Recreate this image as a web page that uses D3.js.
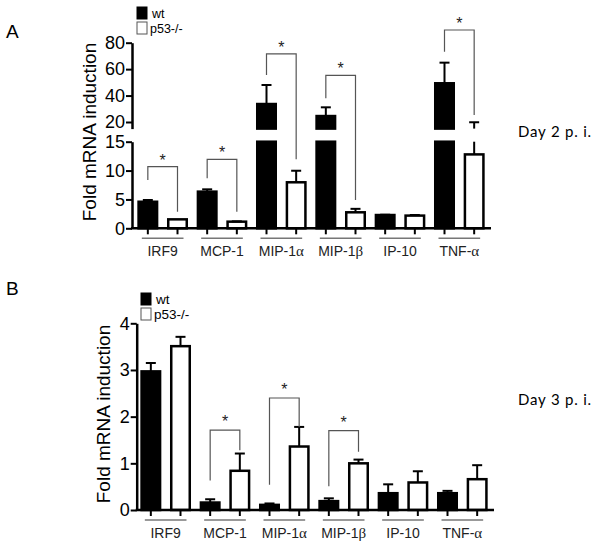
<!DOCTYPE html>
<html><head><meta charset="utf-8">
<script src="https://cdn.jsdelivr.net/npm/d3@7"></script>
<style>body{margin:0;background:#fff}svg{display:block}</style>
</head><body>
<script>
// ---- data ----
const categories = ["IRF9", "MCP-1", "MIP-1α", "MIP-1β", "IP-10", "TNF-α"];
const seriesNames = ["wt", "p53-/-"];

// Day 2 p.i. (panel A)
const day2Wt = [4.6, 6.35, 33.6, 24.5, 2.3, 49.3];
const day2WtErr = [0.3, 0.4, 14.4, 6.6, 0.05, 15.6];
const day2Ko = [1.55, 1.15, 7.97, 2.77, 2.2, 12.8];
const day2KoErr = [0, 0.05, 2.0, 0.6, 0.1, 7.0];
const day2LowTicks = [0, 5, 10, 15];
const day2HighTicks = [20, 40, 60, 80];
const day2SigCats = [0, 1, 2, 3, 5];
const day2SigTop = [10.67, 11.95, 71.5, 55.3, 89.6];
const day2SigLeft = [8.37, 8.66, 55.6, 37.9, 73.2];
const day2SigRight = [2.88, 2.88, 11.95, 4.9, 25.3];

// Day 3 p.i. (panel B)
const day3Wt = [2.97, 0.16, 0.11, 0.19, 0.36, 0.36];
const day3WtErr = [0.18, 0.07, 0.03, 0.06, 0.19, 0.05];
const day3Ko = [3.51, 0.84, 1.36, 1.0, 0.59, 0.66];
const day3KoErr = [0.2, 0.37, 0.42, 0.08, 0.24, 0.30];
const day3Ticks = [0, 1, 2, 3, 4];
const day3SigCats = [1, 2, 3];
const day3SigTop = [1.71, 2.40, 1.70];
const day3SigLeft = [0.63, 0.54, 0.51];
const day3SigRight = [1.28, 1.78, 1.25];

// ---- drawing ----
const W = 600, H = 546;
const svg = d3.select("body").append("svg").attr("width", W).attr("height", H);
const FONT = "'Liberation Sans', Arial, sans-serif";

function labelText(sel, s) {
  const m = s.match(/^(.*?)([αβ])$/);
  if (m) {
    sel.append("tspan").text(m[1]);
    sel.append("tspan").attr("font-family", "'Liberation Serif', serif").attr("font-size", 15).text(m[2]);
  } else sel.text(s);
}

function drawPanel(cfg) {
  const g = svg.append("g");
  const x0 = d3.scaleBand().domain(categories).range(cfg.xRange).paddingInner(0).paddingOuter(0);
  const x1 = d3.scaleBand().domain(seriesNames).range([0, x0.bandwidth()]).paddingInner(0.376).paddingOuter(0.188);
  const yf = cfg.y;
  const baseY = yf(0);
  const bw = x1.bandwidth();

  const vals = [cfg.wt, cfg.ko], errs = [cfg.wtErr, cfg.koErr];
  const fills = ["#000", "#fff"];

  seriesNames.forEach((s, si) => {
    categories.forEach((c, ci) => {
      const v = vals[si][ci];
      const xl = x0(c) + x1(s);
      cfg.segments(0, v).forEach(({a, b, sc}) => {
        g.append("rect").attr("x", xl).attr("y", sc(b)).attr("width", bw)
          .attr("height", sc(a) - sc(b)).attr("fill", fills[si])
          .attr("stroke", "#000").attr("stroke-width", 2.5);
      });
      const e = errs[si][ci];
      if (e > 0) {
        const cx = xl + bw / 2;
        cfg.segments(v, v + e).forEach(({a, b, sc}) => {
          g.append("line").attr("x1", cx).attr("x2", cx).attr("y1", sc(a)).attr("y2", sc(b))
            .attr("stroke", "#000").attr("stroke-width", 2);
        });
        g.append("line").attr("x1", cx - 5).attr("x2", cx + 5).attr("y1", yf(v + e)).attr("y2", yf(v + e))
          .attr("stroke", "#000").attr("stroke-width", 2);
      }
    });
  });

  cfg.yAxes.forEach(({scale, ticks}) => {
    const ax = g.append("g").attr("transform", `translate(${cfg.axisX},0)`)
      .call(d3.axisLeft(scale).tickValues(ticks).tickFormat(d3.format("d"))
        .tickSize(6).tickSizeOuter(0).tickPadding(1));
    ax.select(".domain").attr("stroke-width", 2.5);
    ax.selectAll(".tick line").attr("stroke-width", 2);
    ax.selectAll(".tick text").attr("font-size", 18).attr("font-family", FONT).attr("fill", "#000");
  });

  g.append("line").attr("x1", cfg.axisX - 1).attr("x2", cfg.xRange[1] + 2)
    .attr("y1", baseY).attr("y2", baseY).attr("stroke", "#000").attr("stroke-width", 2.5);
  categories.forEach(c => seriesNames.forEach(s => {
    const cx = x0(c) + x1(s) + bw / 2;
    g.append("line").attr("x1", cx).attr("x2", cx).attr("y1", baseY).attr("y2", baseY + 6)
      .attr("stroke", "#000").attr("stroke-width", 2);
  }));
  categories.forEach(c => {
    const a = x0(c) + x1("wt") + bw / 2 - 6, b = x0(c) + x1("p53-/-") + bw / 2 + 6;
    g.append("line").attr("x1", a).attr("x2", b).attr("y1", baseY + 10).attr("y2", baseY + 10)
      .attr("stroke", "#777").attr("stroke-width", 1.5);
    const t = g.append("text").attr("x", (a + b) / 2).attr("y", baseY + 28).attr("text-anchor", "middle")
      .attr("font-family", FONT).attr("font-size", 14).attr("fill", "#222");
    labelText(t, c);
  });

  cfg.sigCats.forEach((ci, k) => {
    const c = categories[ci];
    const xa = x0(c) + x1("wt") + bw / 2, xb = x0(c) + x1("p53-/-") + bw / 2;
    const yt = yf(cfg.sigTop[k]);
    g.append("path").attr("d", `M${xa},${yf(cfg.sigLeft[k])}V${yt}H${xb}V${yf(cfg.sigRight[k])}`)
      .attr("fill", "none").attr("stroke", "#555").attr("stroke-width", 1.2);
    g.append("text").attr("x", (xa + xb) / 2).attr("y", yt - cfg.starOff).attr("text-anchor", "middle")
      .attr("font-family", FONT).attr("font-size", 16).attr("fill", "#222").text("*");
  });

  g.append("text").attr("transform", `translate(${cfg.ylabX},${cfg.ylabY}) rotate(-90)`)
    .attr("text-anchor", "middle").attr("font-family", FONT).attr("font-size", 19).attr("fill", "#000")
    .text("Fold mRNA induction");

  g.append("text").attr("x", 6).attr("y", cfg.letterY).attr("font-family", FONT)
    .attr("font-size", 19).attr("fill", "#000").text(cfg.letter);

  g.append("text").attr("x", 518).attr("y", cfg.dayY).attr("font-family", "Lato, sans-serif")
    .attr("font-size", 15).attr("letter-spacing", 0.8).attr("fill", "#000").text(cfg.day);

  const L = cfg.legend;
  seriesNames.forEach((s, si) => {
    g.append("rect").attr("x", L.x).attr("y", L.y + si * L.dy).attr("width", L.size - 1).attr("height", L.size + 1)
      .attr("fill", fills[si]).attr("stroke", si ? "#555" : "#000").attr("stroke-width", 1);
    g.append("text").attr("x", L.x + L.size + 4 - si * 2).attr("y", L.y + si * L.dy + L.size)
      .attr("font-family", FONT).attr("font-size", L.fs).attr("fill", "#000").text(s);
  });
}

// Panel A: broken axis (two linear scales)
const BREAK = 15;
const yALow = d3.scaleLinear().domain([0, BREAK]).range([228.3, 141.7]);
const yAHigh = d3.scaleLinear().domain([BREAK, 80]).range([128.6, 42.7]);
const yA = v => v <= BREAK ? yALow(v) : yAHigh(v);
function segA(a, b) {
  const out = [];
  if (a < BREAK) out.push({a, b: Math.min(b, BREAK), sc: yALow});
  if (b > BREAK) out.push({a: Math.max(a, BREAK), b, sc: yAHigh});
  return out;
}

drawPanel({
  xRange: [133, 489], axisX: 132,
  y: yA,
  segments: segA,
  wt: day2Wt, wtErr: day2WtErr, ko: day2Ko, koErr: day2KoErr,
  yAxes: [{scale: yALow, ticks: day2LowTicks}, {scale: yAHigh, ticks: day2HighTicks}],
  sigCats: day2SigCats, sigTop: day2SigTop, sigLeft: day2SigLeft, sigRight: day2SigRight, starOff: 1,
  ylabX: 96, ylabY: 132, letter: "A", letterY: 38, day: "Day 2 p. i.", dayY: 137,
  legend: {x: 137, y: 7, dy: 15, size: 11, fs: 12.5}
});

const yB = d3.scaleLinear().domain([0, 4]).range([510, 323.3]);
drawPanel({
  xRange: [136, 492], axisX: 136.7,
  y: yB,
  segments: (a, b) => [{a, b, sc: yB}],
  wt: day3Wt, wtErr: day3WtErr, ko: day3Ko, koErr: day3KoErr,
  yAxes: [{scale: yB, ticks: day3Ticks}],
  sigCats: day3SigCats, sigTop: day3SigTop, sigLeft: day3SigLeft, sigRight: day3SigRight, starOff: 3,
  ylabX: 110, ylabY: 414, letter: "B", letterY: 295, day: "Day 3 p. i.", dayY: 405,
  legend: {x: 141, y: 293, dy: 15, size: 11, fs: 13.5}
});
</script>
</body></html>
